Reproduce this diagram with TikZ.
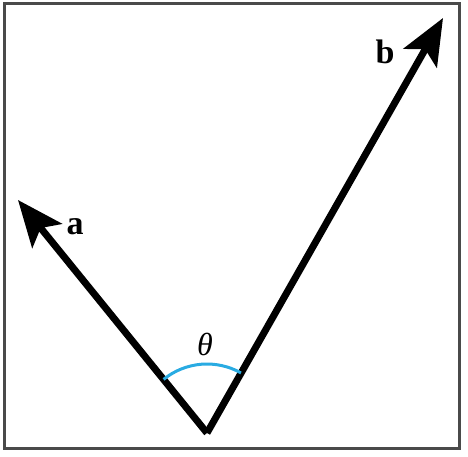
\documentclass[tikz,border=0pt]{standalone}
\usepackage{fontspec}
\setmainfont{Liberation Serif}
\usetikzlibrary{arrows.meta}
\definecolor{arccol}{HTML}{29ABE2}
\definecolor{framecol}{HTML}{4A4A4A}
\begin{document}
\begin{tikzpicture}[x=1pt,y=1pt,
  vec/.style={line width=7pt, -{Stealth[length=46pt,width=38pt,inset=10pt]}},
  lbl/.style={font=\fontsize{34}{36}\selectfont\bfseries, inner sep=0pt},
  ang/.style={font=\fontsize{32}{34}\selectfont\itshape, inner sep=0pt}]
\useasboundingbox (0,0) rectangle (468,456);
\draw[framecol, line width=3pt] (4,8) rectangle (459,452);
\coordinate (O) at (207,23);
\coordinate (A) at (18,256);
\coordinate (B) at (443,438);
\draw[vec] (O) -- (A);
\draw[vec] (O) -- (B);
\draw[arccol, line width=3pt] ([shift={(129:69)}]O) arc[start angle=129, end angle=60.5, radius=69];
\node[lbl] (la) at (75,229) {a};
\node[lbl] (lb) at (385,404) {b};
\node[ang] (th) at (205,112) {θ};
\end{tikzpicture}
\end{document}
